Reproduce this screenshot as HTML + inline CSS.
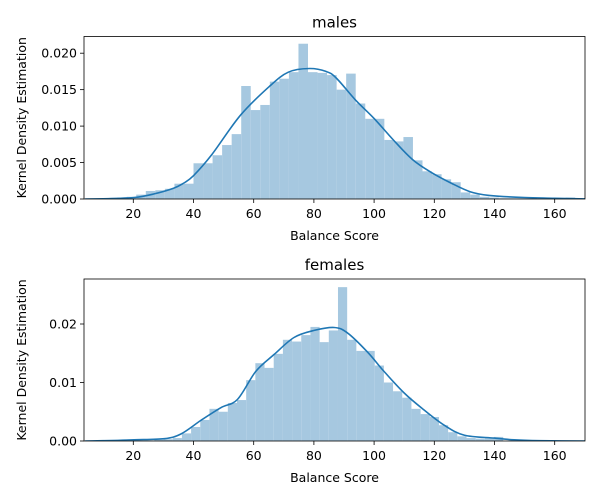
<!DOCTYPE html>
<html><head><meta charset="utf-8"><style>
body{margin:0;background:#fff}
svg{display:block;font-family:"DejaVu Sans","Liberation Sans",sans-serif}
</style></head><body>
<svg id="c" width="600" height="500" viewBox="0 0 600 500"></svg>
<script>
const xTicks=[20,40,60,80,100,120,140,160];
const maleBinStart=40-8*3.17, maleBinWidth=3.17;
const maleBars=[0.0002,0.0003,0.0006,0.0011,0.0012,0.0014,0.0021,0.0021,0.0049,0.0049,0.006,0.0074,0.0089,0.0155,0.0122,0.0129,0.0161,0.0165,0.0174,0.0213,0.0174,0.0173,0.017,0.015,0.0172,0.0131,0.011,0.011,0.0081,0.0079,0.0085,0.0053,0.0038,0.0034,0.0027,0.0023,0.0009,0.0006,0.0003,0.0002,0.0001,0.0001,0.0001,0.0001,0.0,0.0,0.0,0.0002,0.0001];
const maleKdeX=[4,10,20.3,26.9,33.5,36.8,40,46.1,55.6,65.1,71.5,78.5,84,87.4,93.8,100.1,106.4,112.8,119.2,125.5,131.9,138.2,150,160,171];
const maleKdeY=[0,0.00003,0.0002,0.0007,0.0015,0.0022,0.0032,0.0061,0.0115,0.0154,0.0174,0.0179,0.0175,0.0166,0.0136,0.011,0.0081,0.0054,0.0036,0.0022,0.001,0.0005,0.0002,0.0001,0];
const maleYTicks=[0,0.005,0.010,0.015,0.020];
const maleYLabels=["0.000","0.005","0.010","0.015","0.020"];
const femBinStart=33.1-2*3.05, femBinWidth=3.05;
const femBars=[0.0002,0.0003,0.0005,0.0013,0.0024,0.0036,0.0055,0.005,0.0065,0.007,0.0104,0.0133,0.0125,0.0149,0.0173,0.017,0.0181,0.0195,0.0169,0.0189,0.0263,0.0173,0.0154,0.0154,0.0129,0.01,0.0085,0.0074,0.0055,0.0046,0.0041,0.0027,0.0015,0.0008,0.0005,0.0004,0.0005,0.0007];
const femKdeX=[4,10,20.3,30.3,35.8,42.4,49.1,54.6,60.7,66.8,73.4,80.1,86.7,91.1,97.8,103.3,110,116.6,123.3,129.9,139.9,146.5,155,171];
const femKdeY=[0,0.00005,0.0002,0.0004,0.0012,0.0035,0.0057,0.0071,0.0119,0.0148,0.0177,0.0189,0.0194,0.0185,0.0152,0.0119,0.0082,0.0053,0.0027,0.001,0.0005,0.0002,0.00005,0];
const femYTicks=[0,0.01,0.02];
const femYLabels=["0.00","0.01","0.02"];

const NS="http://www.w3.org/2000/svg";
const svg=document.getElementById('c');
function mk(t,a,p){const e=document.createElementNS(NS,t);for(const k in a)e.setAttribute(k,a[k]);(p||svg).appendChild(e);return e;}
function smooth(pts){
  let d='M'+pts[0][0].toFixed(1)+','+pts[0][1].toFixed(1);
  for(let i=0;i<pts.length-1;i++){
    const p0=pts[Math.max(0,i-1)],p1=pts[i],p2=pts[i+1],p3=pts[Math.min(pts.length-1,i+2)];
    const c1=[p1[0]+(p2[0]-p0[0])/6,p1[1]+(p2[1]-p0[1])/6];
    const c2=[p2[0]-(p3[0]-p1[0])/6,p2[1]-(p3[1]-p1[1])/6];
    d+='C'+c1[0].toFixed(1)+','+c1[1].toFixed(1)+' '+c2[0].toFixed(1)+','+c2[1].toFixed(1)+' '+p2[0].toFixed(1)+','+p2[1].toFixed(1);
  }
  return d;
}
function panel(o){
  const L=84,R=585,T=o.top,B=o.bottom;
  const sx=v=>133.3+(v-20)*3.01;
  const sy=v=>B-v*o.scale;
  const g=mk('g',{});
  
  
  const clip=mk('clipPath',{id:'cl'+o.name},g);mk('rect',{x:L,y:T,width:R-L,height:B-T},clip);
  const marks=mk('g',{'clip-path':'url(#cl'+o.name+')'},g);
  o.bars.forEach((v,i)=>{
    const x0=sx(o.bs+i*o.bw),x1=sx(o.bs+(i+1)*o.bw);
    const r=mk('rect',{x:x0,y:sy(v),width:x1-x0,height:B-sy(v),fill:'#a6c8e0'},marks);
    
    
  });
  const pts=o.kx.map((x,i)=>[sx(x),sy(o.ky[i])]);
  const p=mk('path',{d:smooth(pts),fill:'none',stroke:'#1f77b4','stroke-width':1.6,'stroke-linejoin':'round'},marks);
  
  
  const fr=mk('rect',{x:L,y:T,width:R-L,height:B-T,fill:'none',stroke:'#000','stroke-width':0.8},g);
  
  
  xTicks.forEach(v=>{
    mk('line',{x1:sx(v),x2:sx(v),y1:B,y2:B+4,stroke:'#000','stroke-width':0.8},g);
    const t=mk('text',{x:sx(v),y:B+19,'text-anchor':'middle','font-size':12.5,fill:'#000'},g);t.textContent=v;
    
    
  });
  o.yt.forEach((v,i)=>{
    mk('line',{x1:L-4,x2:L,y1:sy(v),y2:sy(v),stroke:'#000','stroke-width':0.8},g);
    const t=mk('text',{x:L-7,y:sy(v)+4.5,'text-anchor':'end','font-size':12.5,fill:'#000'},g);t.textContent=o.yl[i];
    
    
  });
  const ti=mk('text',{x:334.5,y:T-9,'text-anchor':'middle','font-size':15,fill:'#000'},g);ti.textContent=o.title;
  
  
  const xl=mk('text',{x:334.5,y:B+41,'text-anchor':'middle','font-size':12.5,fill:'#000'},g);xl.textContent='Balance Score';
  
  
  const cy=(T+B)/2;
  const yl=mk('text',{x:26,y:cy,'text-anchor':'middle','font-size':12.5,fill:'#000',transform:'rotate(-90 26 '+cy+')'},g);yl.textContent='Kernel Density Estimation';
  
  
}
panel({name:'males',title:'males',top:36.5,bottom:199,scale:7290,bars:maleBars,bs:maleBinStart,bw:maleBinWidth,kx:maleKdeX,ky:maleKdeY,yt:maleYTicks,yl:maleYLabels});
panel({name:'females',title:'females',top:279,bottom:441,scale:5850,bars:femBars,bs:femBinStart,bw:femBinWidth,kx:femKdeX,ky:femKdeY,yt:femYTicks,yl:femYLabels});
</script>
</body></html>
